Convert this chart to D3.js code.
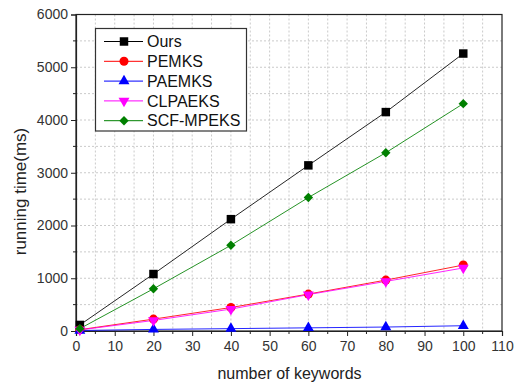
<!DOCTYPE html>
<html>
<head>
<meta charset="utf-8">
<script src="https://cdn.jsdelivr.net/npm/d3@7"></script>
<style>
  html, body { margin: 0; padding: 0; background: #fff; }
  svg { display: block; }
  text { font-family: "Liberation Sans", Arial, sans-serif; }
</style>
</head>
<body>
<svg id="chart" width="518" height="385"></svg>
<script>
const xValues = [1, 20, 40, 60, 80, 100];
const seriesNames = ["Ours", "PEMKS", "PAEMKS", "CLPAEKS", "SCF-MPEKS"];
const oursValues = [115, 1080, 2120, 3140, 4150, 5260];
const pemksValues = [25, 225, 445, 700, 965, 1250];
const paemksValues = [10, 30, 45, 60, 75, 100];
const clpaeksValues = [20, 200, 415, 690, 940, 1195];
const scfValues = [45, 800, 1625, 2530, 3380, 4310];
const xTicks = [0, 10, 20, 30, 40, 50, 60, 70, 80, 90, 100, 110];
const yTicks = [0, 1000, 2000, 3000, 4000, 5000, 6000];

const series = [
  { name: "Ours", values: oursValues, color: "#000000", marker: "square" },
  { name: "PEMKS", values: pemksValues, color: "#ff0000", marker: "circle" },
  { name: "PAEMKS", values: paemksValues, color: "#0000ff", marker: "triangle" },
  { name: "CLPAEKS", values: clpaeksValues, color: "#ff00ff", marker: "triangleDown" },
  { name: "SCF-MPEKS", values: scfValues, color: "#008000", marker: "diamond" }
];

const svg = d3.select("#chart");
const L = 76, R = 502, T = 14.5, B = 331;
const x = d3.scaleLinear().domain([0, 110]).range([L, R]);
const y = d3.scaleLinear().domain([0, 6000]).range([B, T]);

// grid
const gridX = d3.range(5, 110, 5);
const gridY = d3.range(500, 6000, 500);
svg.append("g").selectAll("line").data(gridX).join("line")
  .attr("x1", d => x(d)).attr("x2", d => x(d)).attr("y1", T).attr("y2", B)
  .attr("stroke", "#cacaca").attr("stroke-width", 1).attr("stroke-dasharray", "2,2");
svg.append("g").selectAll("line").data(gridY).join("line")
  .attr("x1", L).attr("x2", R).attr("y1", d => y(d)).attr("y2", d => y(d))
  .attr("stroke", "#cacaca").attr("stroke-width", 1).attr("stroke-dasharray", "2,2");

// frame
svg.append("rect").attr("x", L).attr("y", T).attr("width", R - L).attr("height", B - T)
  .attr("fill", "none").attr("stroke", "#222").attr("stroke-width", 1.2);

// axes
const xAxis = d3.axisBottom(x).tickValues(xTicks).tickSize(5).tickPadding(3).tickFormat(d3.format("d"));
const gx = svg.append("g").attr("transform", `translate(0,${B})`).call(xAxis);
gx.append("g").selectAll("line").data(d3.range(5, 110, 10)).join("line")
  .attr("x1", d => x(d)).attr("x2", d => x(d)).attr("y1", 0).attr("y2", 3).attr("stroke", "#222");
const yAxis = d3.axisLeft(y).tickValues(yTicks).tickSize(5).tickPadding(3).tickFormat(d3.format("d"));
const gy = svg.append("g").attr("transform", `translate(${L},0)`).call(yAxis);
gy.append("g").selectAll("line").data(d3.range(500, 6000, 1000)).join("line")
  .attr("y1", d => y(d)).attr("y2", d => y(d)).attr("x1", 0).attr("x2", -3).attr("stroke", "#222");
[gx, gy].forEach(g => {
  g.select(".domain").attr("stroke", "#222").attr("stroke-width", 1.2);
  g.selectAll(".tick line").attr("stroke", "#222");
  g.selectAll(".tick text").attr("font-size", 14).attr("fill", "#333")
    .attr("font-family", "Liberation Sans, Arial, sans-serif");
});
gx.selectAll(".tick text").attr("dy", "0.85em");

// titles
svg.append("text").attr("x", 289.5).attr("y", 379).attr("text-anchor", "middle")
  .attr("font-size", 16).attr("fill", "#222").text("number of keywords");
svg.append("text").attr("transform", "translate(26,191.5) rotate(-90)").attr("text-anchor", "middle")
  .attr("font-size", 17).attr("fill", "#222").text("running time(ms)");

// markers
const symbolMap = {
  square: d3.symbol().type(d3.symbolSquare).size(72),
  circle: d3.symbol().type(d3.symbolCircle).size(64),
  triangle: d3.symbol().type(d3.symbolTriangle).size(52),
  triangleDown: d3.symbol().type(d3.symbolTriangle).size(52),
  diamond: d3.symbol().type(d3.symbolSquare).size(44)
};
function markerTransform(s, px, py) {
  if (s.marker === "triangleDown") return `translate(${px},${py}) rotate(180)`;
  if (s.marker === "diamond") return `translate(${px},${py}) rotate(45)`;
  return `translate(${px},${py})`;
}

const line = d3.line().x((d, i) => x(xValues[i])).y(d => y(d));
series.forEach(s => {
  svg.append("path").datum(s.values).attr("d", line)
    .attr("fill", "none").attr("stroke", s.color).attr("stroke-width", 1).attr("opacity", 0.85);
});
series.forEach(s => {
  svg.append("g").selectAll("path").data(s.values).join("path")
    .attr("d", symbolMap[s.marker]())
    .attr("transform", (d, i) => markerTransform(s, x(xValues[i]), y(d)))
    .attr("fill", s.color);
});

// legend
const lg = svg.append("g");
lg.append("rect").attr("x", 95.5).attr("y", 28.5).attr("width", 151).attr("height", 102.5)
  .attr("fill", "#fff").attr("stroke", "#333").attr("stroke-width", 1.2);
series.forEach((s, i) => {
  const cy = 41.5 + i * 19.8;
  lg.append("line").attr("x1", 104).attr("x2", 143).attr("y1", cy).attr("y2", cy)
    .attr("stroke", s.color).attr("stroke-width", 1);
  lg.append("path").attr("d", symbolMap[s.marker]()).attr("transform", markerTransform(s, 124, cy))
    .attr("fill", s.color);
  lg.append("text").attr("x", 147).attr("y", cy).attr("dy", "0.36em")
    .attr("font-size", 16).attr("fill", "#111").text(s.name);
});
</script>
</body>
</html>
